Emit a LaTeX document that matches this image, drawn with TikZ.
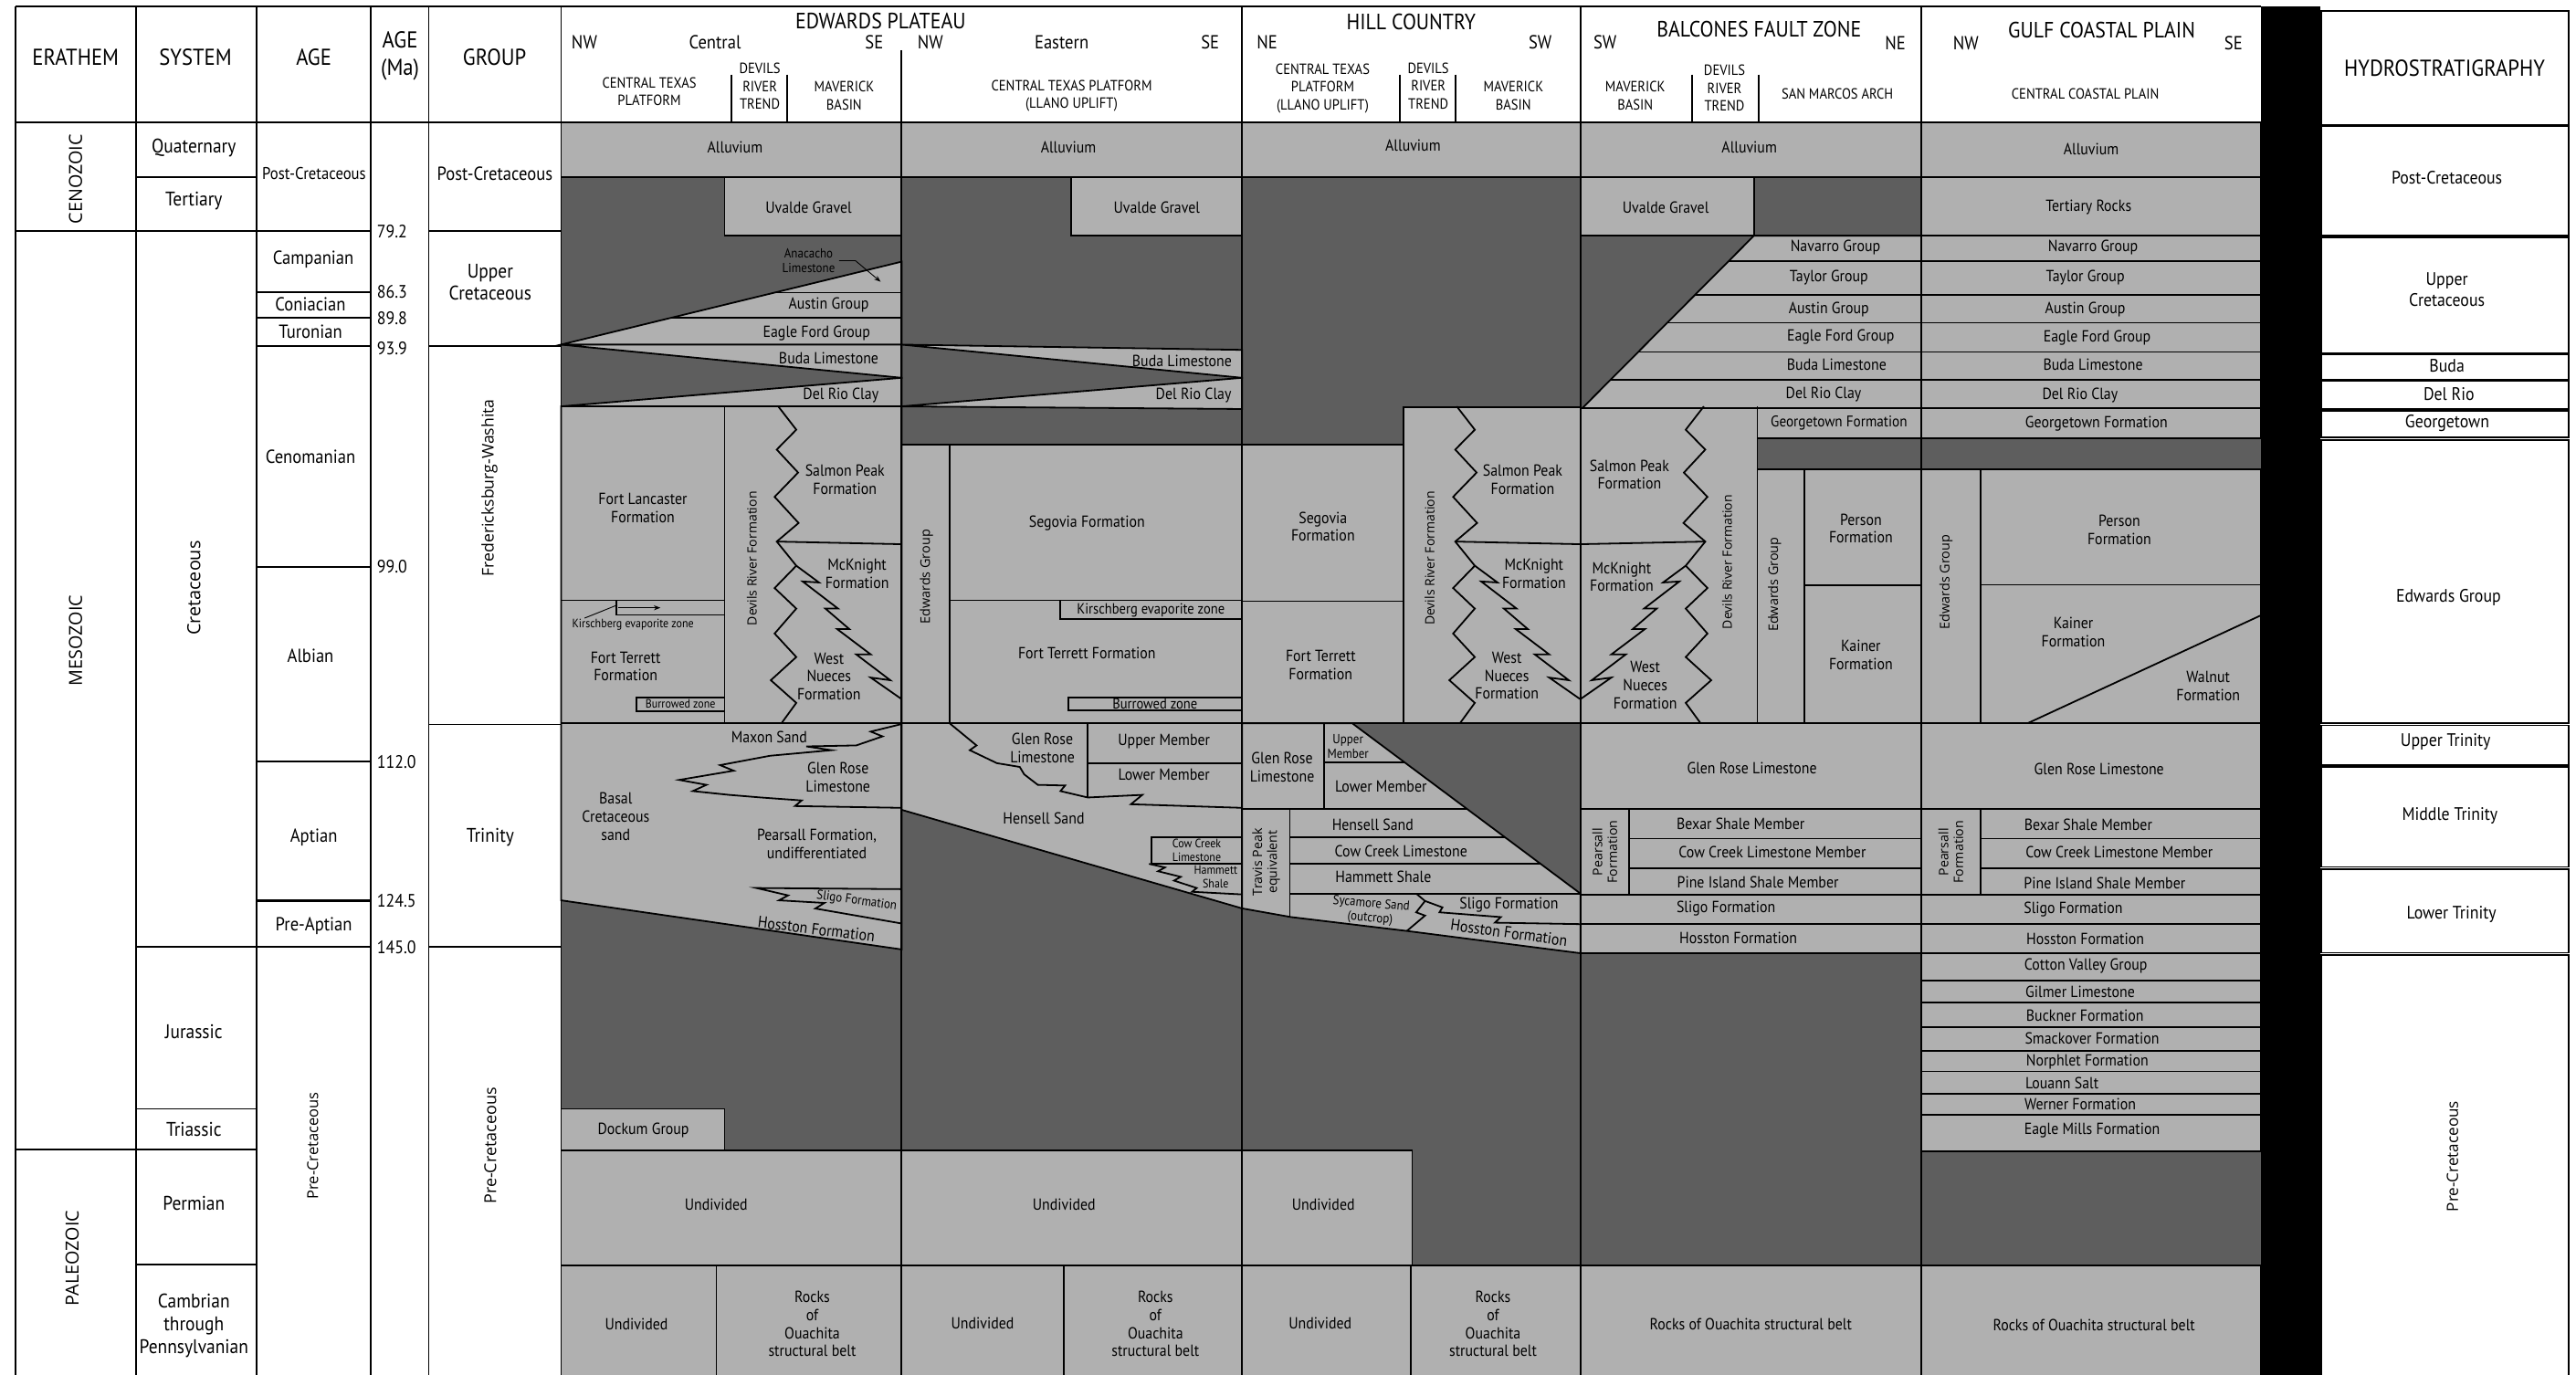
\documentclass[tikz,border=0pt]{standalone}
\usepackage{fontspec}
\setmainfont{PT Sans}[FakeStretch=0.9]
\newfontfamily\rotfont{Open Sans}
\usetikzlibrary{arrows.meta}
\definecolor{rockL}{HTML}{B0B0B0}
\definecolor{rockD}{HTML}{5E5E5E}

% Devils River trend with the Salmon Peak / McKnight / West Nueces tongues
\newcommand\drtrend{%
  \draw (441.1,247.4) -- (441.1,440.4);
  \draw (473.7,247.4) -- (484.7,261.6) -- (472.8,273.7) -- (485.8,287.7) -- (471.5,302.5) -- (486.1,318.4) -- (472.8,329.7) -- (484.7,344.4) -- (471.5,358) -- (484.7,370.5) -- (471.5,385.7) -- (484.7,400) -- (469.2,414.1) -- (484.7,427.9) -- (475.6,440.4);
  \draw (472.8,329.7) -- (548.8,331.3);
  \draw (484.7,344.4) -- (498.5,354.6) -- (488.6,354) -- (510.1,370.5) -- (502.4,370.5) -- (517,383) -- (509.6,383) -- (530,398.4) -- (521.2,398.4) -- (541.9,414.1) -- (530,412.5) -- (548.8,425.6);
}

\begin{document}
\begin{tikzpicture}[x=1pt, y=-1pt, line width=1pt,
  lt/.style={fill=rockL, draw=black},
  lab/.style={font=\fontsize{9.8}{11}\selectfont, align=center, inner sep=0pt},
  sml/.style={font=\fontsize{8}{8.8}\selectfont, align=center, inner sep=0pt},
  hdr/.style={font=\fontsize{14}{16.7}\selectfont, align=center, inner sep=0pt},
  reg/.style={font=\fontsize{13.5}{15}\selectfont, inner sep=0pt},
  compass/.style={font=\fontsize{11.5}{13}\selectfont, inner sep=0pt},
  sub/.style={font=\fontsize{9}{10.8}\selectfont, align=center, inner sep=0pt},
  era/.style={font=\fontsize{12}{13.7}\selectfont, align=center, inner sep=0pt},
  agecol/.style={font=\fontsize{11.5}{13}\selectfont, align=center, inner sep=0pt},
  num/.style={font=\fontsize{11}{12}\selectfont, anchor=west, inner sep=0pt},
  hyd/.style={font=\fontsize{11}{13}\selectfont, align=center, inner sep=0pt},
  vlab/.style={rotate=90, font=\rotfont\fontsize{7.8}{9}\selectfont, align=center, inner sep=0pt}]
  \useasboundingbox (0,0) rectangle (1568,837);
  \fill[white] (0,0) rectangle (1568,837);
  \fill[rockD] (341.5,74.6) rectangle (1376,837);

  % Edwards Plateau, central
  \draw[lt] (341.5,74.6) rectangle (548.8,108);
  \draw[lt] (441,108) rectangle (548.8,143.5);
  \draw[lt] (341.5,209.8) -- (548.8,159.3) -- (548.8,209.8) -- cycle;
  \draw (471.4,178.1) -- (548.8,178.1);
  \draw (408.3,193.5) -- (548.8,193.5);
  \draw[lt] (341.5,209.8) -- (548.8,209.8) -- (548.8,230) -- cycle;
  \draw[lt] (341.5,247.4) -- (548.8,230) -- (548.8,247.4) -- cycle;
  \draw[lt] (341.5,247.4) -- (548.8,247.4) -- (548.8,578) -- (341.5,548.1) -- cycle;
  \drtrend
  \draw (341.5,365.5) -- (441.1,365.5);
  \draw (375.3,365.5) rectangle (441.1,374.4);
  \draw (387.2,424.5) rectangle (441.1,432.9);
  \draw (341.5,440.4) -- (548.8,440.4);
  \draw (548.8,440.8) -- (530,445.4) -- (537.2,448.3) -- (521.2,453.8) -- (490.8,454.4) -- (506,456.7) -- (468.7,460.1) -- (438.3,465.8) -- (446.6,469.2) -- (413.4,474.8) -- (430,477.8) -- (421.7,481.6) -- (443.8,483.9) -- (463.2,485.5) -- (488,487.3) -- (483.9,490.7) -- (548.8,491.8);
  \draw (548.8,541.3) -- (460.4,540.6) -- (479.7,545.1) -- (474.2,548.1) -- (501.8,549.7) -- (496.3,553.1) -- (548.8,562.2);
  \draw[lt] (341.5,675) rectangle (441,700.5);
  \draw[lt] (341.5,700.5) rectangle (548.8,770.5);
  \draw[lt] (341.5,770.5) rectangle (436,838);
  \draw[lt] (436,770.5) rectangle (548.8,838);

  % Edwards Plateau, eastern
  \draw[lt] (548.8,74.6) rectangle (756,108);
  \draw[lt] (652,108) rectangle (756,143.5);
  \draw[lt] (548.8,209.8) -- (756,213) -- (756,230) -- cycle;
  \draw[lt] (548.8,247.4) -- (756,230) -- (756,249) -- cycle;
  \draw[lt] (548.8,270.7) -- (756,270.7) -- (756,553) -- (548.8,493) -- cycle;
  \draw (578.1,270.7) -- (578.1,440.4);
  \draw (578.1,365.5) -- (756,365.5);
  \draw (645.5,365.5) rectangle (756,376.9);
  \draw (650.2,424.5) rectangle (756,432.4);
  \draw (548.8,440.4) -- (756,440.4);
  \draw (578.1,440.4) -- (594.4,453.8) -- (590.3,456.7) -- (606.8,464.6) -- (620.7,466.9) -- (623.4,471.4) -- (631.7,477.8) -- (648.3,478.2) -- (645.5,481.6) -- (662.1,485.5) -- (695.3,483.9) -- (688.4,489.6) -- (756,491.8);
  \draw (662.1,440.4) -- (662.1,485.5);
  \draw (662.1,464.6) -- (756,464.6);
  \draw (700.8,509.6) rectangle (756,525.9);
  \draw (699.4,525.9) -- (709.1,528.1) -- (704.9,530.4) -- (718.7,533.8) -- (714.6,536.1) -- (728.4,540.6) -- (725.6,542.9) -- (756,544.5);
  \draw[lt] (548.8,700.5) rectangle (756,770.5);
  \draw[lt] (548.8,770.5) rectangle (647.7,838);
  \draw[lt] (647.7,770.5) rectangle (756,838);

  % Hill Country
  \draw[lt] (756,74.6) rectangle (962,108);
  \draw[lt] (756,270.7) rectangle (854.1,440.4);
  \draw[lt] (854.1,248) rectangle (962,440.4);
  \draw (756,366) -- (854.1,366);
  \begin{scope}[xshift=413pt]
    \drtrend
  \end{scope}
  \draw[lt] (756,440.4) -- (823.2,440.4) -- (962,544) -- (962,580.3) -- (856.8,566.8) -- (785.9,558.3) -- (756,553) -- cycle;
  \draw (806.1,440.4) -- (806.1,492.5);
  \draw (756,492.5) -- (893,492.5);
  \draw (806.1,464.2) -- (855.1,464.2);
  \draw (785.1,492.5) -- (785.1,558.2);
  \draw (785.1,509.6) -- (915.9,509.6);
  \draw (785.1,525.9) -- (937.8,525.9);
  \draw (785.1,544) -- (962,544);
  \draw (862,544) -- (867.4,548.5) -- (878,552.4) -- (876.2,555.4) -- (913.5,558.3) -- (909.9,561.7) -- (962,562.6);
  \draw (867.4,548.5) -- (862,555.4) -- (867.4,557.4) -- (856.4,566.7);
  \draw[lt] (756,700.5) rectangle (859.6,770.5);
  \draw[lt] (756,770.5) rectangle (858.9,838);
  \draw[lt] (858.9,770.5) rectangle (962,838);

  % Balcones Fault Zone
  \draw[lt] (962,74.6) rectangle (1169.5,108);
  \draw[lt] (962,108) rectangle (1067.6,143.5);
  \draw (1067.6,108) rectangle (1169.5,143.5);
  \draw[lt] (1067.6,143.5) -- (1169.5,143.5) -- (1169.5,248.6) -- (963,248.6) -- cycle;
  \draw (1052.2,159) -- (1169.5,159);
  \draw (1031.8,179.5) -- (1169.5,179.5);
  \draw (1014.9,196.5) -- (1169.5,196.5);
  \draw (997.1,214.3) -- (1169.5,214.3);
  \draw (980.3,231.2) -- (1169.5,231.2);
  \draw[lt] (962,248.6) rectangle (1069.7,440.4);
  \draw[lt] (1069.7,248.6) rectangle (1169.5,267);
  \draw (1069.7,267) rectangle (1169.5,285.8);
  \draw[lt] (1069.7,285.8) rectangle (1169.5,440.4);
  \draw (1098.1,285.8) -- (1098.1,440.4);
  \draw (1098.1,356.5) -- (1169.5,356.5);
  \begin{scope}[xshift=1510.8pt, xscale=-1]
    \drtrend
  \end{scope}
  \draw[lt] (962,440.4) rectangle (1169.5,580.3);
  \draw (962,492.5) -- (1169.5,492.5);
  \draw (991.8,492.5) -- (991.8,544.5);
  \draw (991.8,510.5) -- (1169.5,510.5);
  \draw (991.8,528.6) -- (1169.5,528.6);
  \draw (962,544.5) -- (1169.5,544.5);
  \draw (962,562.6) -- (1169.5,562.6);
  \draw[lt] (962,770.5) rectangle (1169.5,838);

  % Gulf Coastal Plain
  \draw[lt] (1169.5,74.6) rectangle (1376,108);
  \draw[lt] (1169.5,108) rectangle (1376,143.5);
  \draw[lt] (1169.5,143.5) rectangle (1376,267);
  \foreach \y in {159,179.5,196.5,214.3,231.2,248.6}
    \draw (1169.5,\y) -- (1376,\y);
  \draw[lt] (1169.5,285.8) rectangle (1376,440.4);
  \draw (1205.4,285.8) -- (1205.4,440.4);
  \draw (1205.4,356) -- (1376,356);
  \draw (1234,440.4) -- (1376,374.7);
  \draw[lt] (1169.5,440.4) rectangle (1376,580.3);
  \draw (1169.5,492.5) -- (1376,492.5);
  \draw (1205.4,492.5) -- (1205.4,544.5);
  \draw (1205.4,510.5) -- (1376,510.5);
  \draw (1205.4,528.6) -- (1376,528.6);
  \draw (1169.5,544.5) -- (1376,544.5);
  \draw (1169.5,562.6) -- (1376,562.6);
  \draw[lt] (1169.5,580.3) rectangle (1376,700.8);
  \foreach \y in {596.8,610.5,625.3,639.7,652.3,665.7,678.5}
    \draw (1169.5,\y) -- (1376,\y);
  \draw[lt] (1169.5,770.5) rectangle (1376,838);

  % Frame and columns
  \draw (9.6,4) -- (1376,4);
  \draw (9.6,74.6) -- (1376,74.6);
  \foreach \x in {9.6,82.6,156,225.7,261,341.5,756,962,1169.5}
    \draw (\x,4) -- (\x,838);
  \draw (548.8,30.5) -- (548.8,838);
  \foreach \x in {445.3,479.2,851.9,886.1,1029.8,1070.3}
    \draw (\x,45.4) -- (\x,74.6);
  \draw (9.6,140.7) -- (225.7,140.7);
  \draw (261,140.7) -- (341.5,140.7);
  \draw (82.6,108) -- (156,108);
  \draw (156,177.8) -- (225.7,177.8);
  \draw (156,193.5) -- (225.7,193.5);
  \draw (156,210.6) -- (225.7,210.6);
  \draw (261,210.6) -- (341.5,210.6);
  \draw (156,345) -- (225.7,345);
  \draw (156,463.7) -- (225.7,463.7);
  \draw[line width=2pt] (156,548.3) -- (225.7,548.3);
  \draw (82.6,576.5) -- (225.7,576.5);
  \draw (261,441) -- (341.5,441);
  \draw (261,576.5) -- (341.5,576.5);
  \draw (82.6,675) -- (156,675);
  \draw (9.6,700) -- (156,700);
  \draw (82.6,770) -- (156,770);
  \fill (1376,4) rectangle (1412.5,838);
  \foreach \a/\b in {6.5/76, 77/143.5, 144.5/214.8, 215.7/231, 231.8/249, 250/266.3, 268/440, 441.6/466, 467/527.8, 529/580, 581.5/840}
    \draw (1413,\a) rectangle (1563.5,\b);

  % Arrows
  \coordinate (anacTip) at (536,171.5);
  \coordinate (kbStart) at (376.5,370);
  \coordinate (kbTip) at (402,370);
  \coordinate (kbBox) at (375.3,368.5);

  % Header texts
  \node[hdr] (hEra) at (46,35) {ERATHEM};
  \node[hdr] (hSys) at (119,35) {SYSTEM};
  \node[hdr] (hAge) at (191,35) {AGE};
  \node[hdr] (hMa) at (243.5,34) {AGE\\(Ma)};
  \node[hdr] (hGrp) at (301,35) {GROUP};
  \node[reg] (tEdw) at (536,12.6) {EDWARDS PLATEAU};
  \node[compass] (cNW) at (355.7,25.9) {NW};
  \node[compass] (cMid) at (435.2,25.9) {Central};
  \node[compass] (cSE) at (532.1,25.9) {SE};
  \node[compass] (eNW) at (566.3,25.9) {NW};
  \node[compass] (eMid) at (646.2,25.9) {Eastern};
  \node[compass] (eSE) at (736.6,25.9) {SE};
  \node[sub] (cCTP) at (395.2,55.8) {CENTRAL TEXAS\\PLATFORM};
  \node[sub] (cDRT) at (462.5,52.6) {DEVILS\\RIVER\\TREND};
  \node[sub] (cMB) at (513.8,58.3) {MAVERICK\\BASIN};
  \node[sub] (eCTP) at (652.3,58.3) {CENTRAL TEXAS PLATFORM\\(LLANO UPLIFT)};
  \node[reg] (tHill) at (858.9,13.3) {HILL COUNTRY};
  \node[compass] (hNE) at (771.3,25.9) {NE};
  \node[compass] (hSW) at (937.5,25.9) {SW};
  \node[sub] (hCTP) at (805.1,53.7) {CENTRAL TEXAS\\PLATFORM\\(LLANO UPLIFT)};
  \node[sub] (hDRT) at (869.4,52.4) {DEVILS\\RIVER\\TREND};
  \node[sub] (hMB) at (921.2,58.3) {MAVERICK\\BASIN};
  \node[reg] (tBal) at (1070.7,17.6) {BALCONES FAULT ZONE};
  \node[compass] (bSW) at (977,25.9) {SW};
  \node[compass] (bNE) at (1153.7,26.5) {NE};
  \node[sub] (bMB) at (995.3,58.3) {MAVERICK\\BASIN};
  \node[sub] (bDRT) at (1049.7,53.7) {DEVILS\\RIVER\\TREND};
  \node[sub] (bSMA) at (1118.4,57.4) {SAN MARCOS ARCH};
  \node[reg] (tGulf) at (1279.3,18.5) {GULF COASTAL PLAIN};
  \node[compass] (gNW) at (1196.6,26.5) {NW};
  \node[compass] (gSE) at (1359.5,26.5) {SE};
  \node[sub] (gCCP) at (1269.3,56.9) {CENTRAL COASTAL PLAIN};
  \node[hdr] (tHyd) at (1488,41.7) {HYDROSTRATIGRAPHY};

  % Erathem, system, age, group
  \node[vlab, font=\rotfont\fontsize{11}{12}\selectfont] (lCen) at (46,109) {CENOZOIC};
  \node[vlab, font=\rotfont\fontsize{11}{12}\selectfont] (lMes) at (46,390) {MESOZOIC};
  \node[vlab, font=\rotfont\fontsize{11}{12}\selectfont] (lPal) at (44,766) {PALEOZOIC};
  \node[era] (lQua) at (118,90.3) {Quaternary};
  \node[era] (lTer) at (118,122.5) {Tertiary};
  \node[vlab, font=\rotfont\fontsize{11}{12}\selectfont] (lCre) at (118,358) {Cretaceous};
  \node[era] (lJur) at (118,628) {Jurassic};
  \node[era] (lTri) at (118,687.5) {Triassic};
  \node[era] (lPer) at (118,732.3) {Permian};
  \node[era] (lCam) at (118,807) {Cambrian\\through\\Pennsylvanian};
  \node[agecol, font=\fontsize{10.3}{12}\selectfont] (aPost) at (191.2,105.8) {Post-Cretaceous};
  \node[agecol] (aCam) at (190.7,158.2) {Campanian};
  \node[agecol] (aCon) at (189,185.5) {Coniacian};
  \node[agecol] (aTur) at (189,202) {Turonian};
  \node[agecol] (aCen) at (189,278) {Cenomanian};
  \node[agecol] (aAlb) at (189,399) {Albian};
  \node[agecol] (aApt) at (191,509.7) {Aptian};
  \node[agecol] (aPre) at (191,564) {Pre-Aptian};
  \node[vlab, font=\rotfont\fontsize{9.2}{10}\selectfont] (aPreK) at (190.3,697.5) {Pre-Cretaceous};
  \node[num] (m79) at (229,140.7) {79.2};
  \node[num] (m86) at (229,177.8) {86.3};
  \node[num] (m89) at (229,193.5) {89.8};
  \node[num] (m93) at (229,212) {93.9};
  \node[num] (m99) at (229,345) {99.0};
  \node[num] (m112) at (229,463.7) {112.0};
  \node[num] (m124) at (229,548.3) {124.5};
  \node[num] (m145) at (229,576.5) {145.0};
  \node[agecol] (gPost) at (301.2,105.8) {Post-Cretaceous};
  \node[era] (gUpK) at (298.4,171.7) {Upper\\Cretaceous};
  \node[vlab, font=\rotfont\fontsize{9.8}{11}\selectfont] (gFW) at (298,297) {Fredericksburg-Washita};
  \node[era] (gTrin) at (298.4,509.7) {Trinity};
  \node[vlab, font=\rotfont\fontsize{10}{11}\selectfont] (gPreK) at (298.4,697.5) {Pre-Cretaceous};

  % Edwards Plateau, central
  \node[lab] (cAll) at (447.4,89.8) {Alluvium};
  \node[lab] (cUva) at (492.2,126.3) {Uvalde Gravel};
  \node[sml] (cAnac) at (492.2,158.7) {Anacacho\\Limestone};
  \node[lab] (cAus) at (504.4,185.6) {Austin Group};
  \node[lab] (cEag) at (497.1,202.8) {Eagle Ford Group};
  \node[lab] (cBud) at (504.4,218) {Buda Limestone};
  \node[lab] (cDel) at (511.8,240.6) {Del Rio Clay};
  \node[lab] (cFL) at (391.3,309.3) {Fort Lancaster\\Formation};
  \node[vlab] (cDR) at (457.6,340) {Devils River Formation};
  \node[lab] (cSP) at (514.3,291.8) {Salmon Peak\\Formation};
  \node[lab] (cMcK) at (521.7,349.4) {McKnight\\Formation};
  \node[lab] (cWN) at (504.6,411.8) {West\\Nueces\\Formation};
  \node[sml, font=\fontsize{7.4}{8}\selectfont] (cKir) at (385.3,380.2) {Kirschberg evaporite zone};
  \node[lab] (cFT) at (380.8,405.7) {Fort Terrett\\Formation};
  \node[sml, font=\fontsize{7.4}{8}\selectfont] (cBur) at (414.2,428.7) {Burrowed zone};
  \node[lab] (cMax) at (468.2,448.8) {Maxon Sand};
  \node[lab] (cGR) at (510.1,473.3) {Glen Rose\\Limestone};
  \node[lab] (cBas) at (374.8,497.1) {Basal\\Cretaceous\\sand};
  \node[lab] (cPea) at (497.2,513.8) {Pearsall Formation,\\undifferentiated};
  \node[sml, rotate=-8] (cSli) at (521.5,548.6) {Sligo Formation};
  \node[lab, rotate=-7] (cHos) at (496.9,565.6) {Hosston Formation};
  \node[lab] (cDoc) at (391.6,688.3) {Dockum Group};
  \node[lab] (cUnd) at (435.9,733.1) {Undivided};
  \node[lab] (cUnd2) at (387.4,806) {Undivided};
  \node[lab] (cOua) at (494.4,806) {Rocks\\of\\Ouachita\\structural belt};

  % Edwards Plateau, eastern
  \node[lab] (eAll) at (650.3,89.8) {Alluvium};
  \node[lab] (eUva) at (704.1,126.3) {Uvalde Gravel};
  \node[lab] (eBud) at (719.5,219.8) {Buda Limestone};
  \node[lab] (eDel) at (726.5,240.6) {Del Rio Clay};
  \node[vlab, font=\rotfont\fontsize{8}{9}\selectfont] (eEdw) at (564,351.2) {Edwards Group};
  \node[lab] (eSeg) at (661.6,318.4) {Segovia Formation};
  \node[lab, font=\fontsize{9}{10}\selectfont] (eKir) at (700.5,371.3) {Kirschberg evaporite zone};
  \node[lab] (eFT) at (661.6,397.7) {Fort Terrett Formation};
  \node[lab, font=\fontsize{9}{10}\selectfont] (eBur) at (703,428.6) {Burrowed zone};
  \node[lab] (eGR) at (634.5,455.6) {Glen Rose\\Limestone};
  \node[lab] (eUp) at (708.5,451.5) {Upper Member};
  \node[lab] (eLo) at (708.5,471.4) {Lower Member};
  \node[lab] (eHen) at (635.3,498) {Hensell Sand};
  \node[sml, font=\fontsize{7.4}{8.5}\selectfont] (eCow) at (728.4,517.6) {Cow Creek\\Limestone};
  \node[sml, font=\fontsize{7.4}{8.5}\selectfont] (eHam) at (740,534) {Hammett\\Shale};
  \node[lab] (eUnd) at (647.7,733.1) {Undivided};
  \node[lab] (eUnd2) at (598.1,805.6) {Undivided};
  \node[lab] (eOua) at (703.3,806) {Rocks\\of\\Ouachita\\structural belt};

  % Hill Country
  \node[lab] (hAll) at (860.1,88.5) {Alluvium};
  \node[lab] (hSeg) at (805.3,320.6) {Segovia\\Formation};
  \node[lab] (hFT) at (803.9,405) {Fort Terrett\\Formation};
  \node[vlab] (hDR) at (870.2,339.9) {Devils River Formation};
  \node[lab] (hSP) at (926.8,291.8) {Salmon Peak\\Formation};
  \node[lab] (hMcK) at (933.7,349.4) {McKnight\\Formation};
  \node[lab] (hWN) at (917.2,411.3) {West\\Nueces\\Formation};
  \node[lab] (hGR) at (780.4,467) {Glen Rose\\Limestone};
  \node[sml] (hUp) at (820.5,454.4) {Upper\\Member};
  \node[lab] (hLo) at (840.6,479) {Lower Member};
  \node[vlab, font=\rotfont\fontsize{7.9}{9}\selectfont] (hTP) at (770.7,524.8) {Travis Peak\\equivalent};
  \node[lab] (hHen) at (835.6,502.1) {Hensell Sand};
  \node[lab] (hCow) at (852.8,518) {Cow Creek Limestone};
  \node[lab] (hHam) at (842,533.8) {Hammett Shale};
  \node[sml, rotate=-5] (hSyc) at (834.3,554.8) {Sycamore Sand\\(outcrop)};
  \node[lab] (hSli) at (918.5,550.8) {Sligo Formation};
  \node[lab, rotate=-8] (hHos) at (918.5,567.8) {Hosston Formation};
  \node[lab] (hUnd) at (805.5,733.1) {Undivided};
  \node[lab] (hUnd2) at (803.6,805.6) {Undivided};
  \node[lab] (hOua) at (908.8,806) {Rocks\\of\\Ouachita\\structural belt};

  % Balcones Fault Zone
  \node[lab] (bAll) at (1064.8,89.8) {Alluvium};
  \node[lab] (bUva) at (1013.9,126.3) {Uvalde Gravel};
  \node[lab] (bNav) at (1117.2,150.4) {Navarro Group};
  \node[lab] (bTay) at (1113.2,168.9) {Taylor Group};
  \node[lab] (bAus) at (1113.2,188.2) {Austin Group};
  \node[lab] (bEag) at (1120.4,205.4) {Eagle Ford Group};
  \node[lab] (bBud) at (1118,222) {Buda Limestone};
  \node[lab] (bDel) at (1110,240.2) {Del Rio Clay};
  \node[lab, font=\fontsize{9.4}{10}\selectfont] (bGeo) at (1119.4,257.6) {Georgetown Formation};
  \node[lab] (bSP) at (991.8,288.9) {Salmon Peak\\Formation};
  \node[lab] (bMcK) at (987.1,351.2) {McKnight\\Formation};
  \node[lab] (bWN) at (1001.4,417) {West\\Nueces\\Formation};
  \node[vlab] (bDR) at (1051.2,342.2) {Devils River Formation};
  \node[vlab, font=\rotfont\fontsize{8}{9}\selectfont] (bEdw) at (1080.2,355.8) {Edwards Group};
  \node[lab] (bPer) at (1132.7,321.8) {Person\\Formation};
  \node[lab] (bKai) at (1132.7,398.9) {Kainer\\Formation};
  \node[lab] (bGR) at (1066.4,467.5) {Glen Rose Limestone};
  \node[vlab, font=\rotfont\fontsize{7.9}{9}\selectfont] (bPea) at (976.8,518.6) {Pearsall\\Formation};
  \node[lab] (bBex) at (1059.5,501.8) {Bexar Shale Member};
  \node[lab] (bCow) at (1078.8,519) {Cow Creek Limestone Member};
  \node[lab] (bPin) at (1070,537.2) {Pine Island Shale Member};
  \node[lab] (bSli) at (1050.6,553.3) {Sligo Formation};
  \node[lab] (bHos) at (1058.1,571.2) {Hosston Formation};
  \node[lab] (bOua) at (1065.7,806) {Rocks of Ouachita structural belt};

  % Gulf Coastal Plain
  \node[lab] (gAll) at (1272.9,90.7) {Alluvium};
  \node[lab] (gTer) at (1271.3,126.3) {Tertiary Rocks};
  \node[lab] (gNav) at (1274,150.4) {Navarro Group};
  \node[lab] (gTay) at (1269.3,169.2) {Taylor Group};
  \node[lab] (gAus) at (1269.3,188.6) {Austin Group};
  \node[lab] (gEag) at (1276.5,205.8) {Eagle Ford Group};
  \node[lab] (gBud) at (1274,222.2) {Buda Limestone};
  \node[lab] (gDel) at (1266.1,240.5) {Del Rio Clay};
  \node[lab] (gGeo) at (1276.1,257.8) {Georgetown Formation};
  \node[vlab, font=\rotfont\fontsize{8}{9}\selectfont] (gEdw) at (1184.5,354.3) {Edwards Group};
  \node[lab] (gPer) at (1290,322.6) {Person\\Formation};
  \node[lab] (gKai) at (1262,385) {Kainer\\Formation};
  \node[lab] (gWal) at (1344.1,417.8) {Walnut\\Formation};
  \node[lab] (gGR) at (1277.7,468.4) {Glen Rose Limestone};
  \node[vlab, font=\rotfont\fontsize{7.9}{9}\selectfont] (gPea) at (1187.5,518.8) {Pearsall\\Formation};
  \node[lab] (gBex) at (1271.1,502) {Bexar Shale Member};
  \node[lab] (gCow) at (1290,519) {Cow Creek Limestone Member};
  \node[lab] (gPin) at (1281.1,537.8) {Pine Island Shale Member};
  \node[lab] (gSli) at (1262,553.5) {Sligo Formation};
  \node[lab] (gHos) at (1269.3,571.4) {Hosston Formation};
  \node[lab] (gCot) at (1269.6,588.3) {Cotton Valley Group};
  \node[lab] (gGil) at (1266.2,604) {Gilmer Limestone};
  \node[lab] (gBuc) at (1269.1,618.2) {Buckner Formation};
  \node[lab] (gSma) at (1273.4,632.2) {Smackover Formation};
  \node[lab] (gNor) at (1270.5,646.4) {Norphlet Formation};
  \node[lab] (gLou) at (1255.1,659.2) {Louann Salt};
  \node[lab] (gWer) at (1266.2,672.4) {Werner Formation};
  \node[lab] (gEMi) at (1273.4,688.4) {Eagle Mills Formation};
  \node[lab] (gOua) at (1274.6,806.6) {Rocks of Ouachita structural belt};

  % Hydrostratigraphy
  \node[hyd] (yPost) at (1489.4,108.3) {Post-Cretaceous};
  \node[hyd] (yUpK) at (1489.4,176.4) {Upper\\Cretaceous};
  \node[hyd] (yBud) at (1489.4,222.6) {Buda};
  \node[hyd] (yDel) at (1490.6,240) {Del Rio};
  \node[hyd] (yGeo) at (1489.6,257.5) {Georgetown};
  \node[hyd] (yEdw) at (1490.4,363.9) {Edwards Group};
  \node[hyd] (yUpT) at (1488.6,451.4) {Upper Trinity};
  \node[hyd] (yMiT) at (1491.2,496.8) {Middle Trinity};
  \node[hyd] (yLoT) at (1492.2,556.4) {Lower Trinity};
  \node[vlab, font=\rotfont\fontsize{9.5}{11}\selectfont] (yPreK) at (1492.8,704) {Pre-Cretaceous};

  % Pointers
  \draw[line width=0.5pt, -{Stealth[length=4pt]}] ([xshift=2pt]cAnac.east) -- ++(10,0) -- (anacTip);
  \draw[line width=0.5pt, -{Stealth[length=4pt]}] (kbStart) -- (kbTip);
  \draw[line width=0.5pt] (cKir.north west) ++(8,0) -- (kbBox);
\end{tikzpicture}
\end{document}
